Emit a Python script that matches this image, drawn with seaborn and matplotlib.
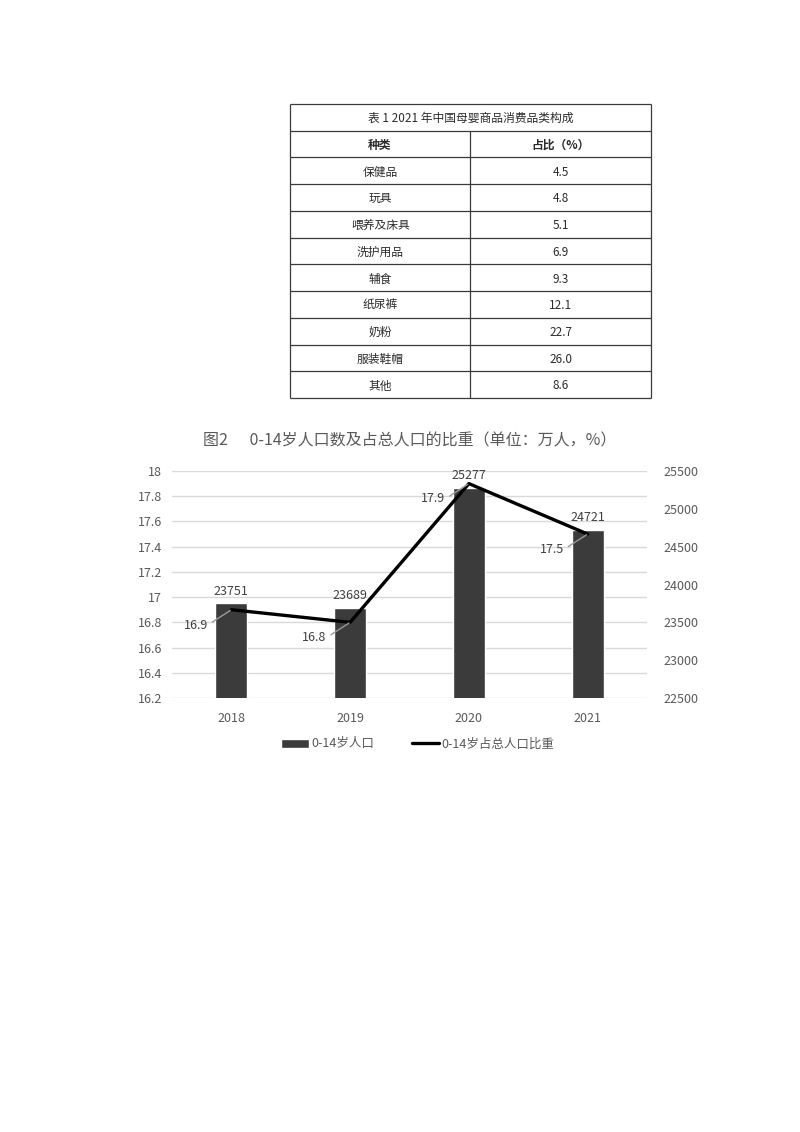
#!/usr/bin/env python3

import numpy as np
import pandas as pd
import matplotlib.pyplot as plt
import seaborn as sns

# Table 1: 2021 maternal & infant goods consumption mix
table_title = "表 1 2021 年中国母婴商品消费品类构成"
table_header = ["种类", "占比（%）"]
categories = ["保健品", "玩具", "喂养及床具", "洗护用品", "辅食", "纸尿裤", "奶粉", "服装鞋帽", "其他"]
shares = [4.5, 4.8, 5.1, 6.9, 9.3, 12.1, 22.7, 26.0, 8.6]

# Figure 2: 0-14 population and share of total
chart_title = "图2      0-14岁人口数及占总人口的比重（单位：万人，%）"
years = ["2018", "2019", "2020", "2021"]
pop_0_14 = [23751, 23689, 25277, 24721]
share_0_14 = [16.9, 16.8, 17.9, 17.5]
left_ticks = [16.2, 16.4, 16.6, 16.8, 17.0, 17.2, 17.4, 17.6, 17.8, 18.0]
left_tick_labels = ["16.2", "16.4", "16.6", "16.8", "17", "17.2", "17.4", "17.6", "17.8", "18"]
right_ticks = [22500, 23000, 23500, 24000, 24500, 25000, 25500]

sns.set_theme(style="white")
plt.rcParams['font.family'] = ['Noto Sans CJK SC', 'DejaVu Sans']

W, H = 800, 1132
fig = plt.figure(figsize=(8, 11.32), dpi=100)
fig.patch.set_facecolor("white")


def fig_box(x0, y0, x1, y1):
    """pixel box (top-left origin) -> figure fraction rect"""
    return [x0 / W, 1 - y1 / H, (x1 - x0) / W, (y1 - y0) / H]


# ---------------- table ----------------
ax_t = fig.add_axes(fig_box(290, 104, 651, 398))
n_rows = len(categories) + 2
ax_t.set_xlim(0, 1)
ax_t.set_ylim(n_rows, 0)
ax_t.axis("off")
line_kw = dict(color="#3a3a3a", lw=0.9, clip_on=False)
ax_t.hlines(range(n_rows + 1), 0, 1, **line_kw)
ax_t.vlines([0, 1], 0, n_rows, **line_kw)
split = (470 - 290) / (651 - 290)
ax_t.vlines(split, 1, n_rows, **line_kw)

txt_col = "#2b2b2b"
ax_t.text(0.5, 0.55, table_title, ha="center", va="center", fontsize=8.5, color=txt_col)
ax_t.text(split / 2, 1.55, table_header[0], ha="center", va="center",
          fontsize=8.5, fontweight="bold", color=txt_col)
ax_t.text((1 + split) / 2, 1.55, table_header[1], ha="center", va="center",
          fontsize=8.5, fontweight="bold", color=txt_col)
for i, (cat, val) in enumerate(zip(categories, shares)):
    y = i + 2.55
    ax_t.text(split / 2, y, cat, ha="center", va="center", fontsize=8.5, color=txt_col)
    ax_t.text((1 + split) / 2, y, f"{val:.1f}", ha="center", va="center",
              fontsize=8.5, color=txt_col)

# ---------------- chart ----------------
fig.text(410 / W, 1 - 441 / H, chart_title, ha="center", va="center",
         fontsize=11.5, color="#595959")

gray = "#595959"
ax1 = fig.add_axes(fig_box(172, 471, 647, 698))
ax2 = ax1.twinx()
ax3 = ax1.twinx()

df = pd.DataFrame({"year": years, "pop": pop_0_14, "share": share_0_14})

# base axis: left ticks + grid
ax1.set_ylim(16.2, 18.0)
ax1.set_yticks(left_ticks)
ax1.set_yticklabels(left_tick_labels)
ax1.grid(axis="y", color="#d9d9d9", lw=1)
ax1.grid(axis="x", visible=False)
ax1.tick_params(axis="y", length=0, pad=7, labelsize=9, labelcolor=gray)
ax1.tick_params(axis="x", length=0, pad=10, labelsize=9, labelcolor=gray)

# bars on right axis
sns.barplot(data=df, x="year", y="pop", order=years, color="#3b3b3b",
            saturation=1, width=0.27, ax=ax2, label="0-14岁人口")
ax2.set_ylim(22500, 25500)
ax2.set_yticks(right_ticks)
ax2.tick_params(axis="y", length=0, pad=12, labelsize=9, labelcolor=gray)
ax2.set_xlabel("")
ax2.set_ylabel("")
ax2.bar_label(ax2.containers[0], labels=[str(v) for v in pop_0_14],
              padding=4, fontsize=9, color="#404040")

# line on left scale
sns.lineplot(x=np.arange(len(years)), y=share_0_14, color="black", lw=2.4,
             ax=ax3, label="0-14岁占总人口比重")
ax3.set_ylim(16.2, 18.0)
ax3.set_yticks([])
ax3.set_ylabel("")
for i, v in enumerate(share_0_14):
    ax3.annotate(f"{v:.1f}", xy=(i, v), xytext=(-17, -11), textcoords="offset points",
                 ha="right", va="center", fontsize=9, color="#404040",
                 arrowprops=dict(arrowstyle="-", color="#9a9a9a", lw=1.0,
                                 shrinkA=1, shrinkB=1, relpos=(1, 0.5)))

ax1.set_xlim(-0.5, len(years) - 0.5)
ax1.set_xticks(range(len(years)))
ax1.set_xticklabels(years)
ax1.set_xlabel("")

for a in (ax1, ax2, ax3):
    for s in a.spines.values():
        s.set_visible(False)
    a.patch.set_visible(False)

# legend
h2, l2 = ax2.get_legend_handles_labels()
h3, l3 = ax3.get_legend_handles_labels()
for a in (ax2, ax3):
    if a.get_legend() is not None:
        a.get_legend().remove()
fig.legend(h2 + h3, l2 + l3, loc="center", bbox_to_anchor=(418 / W, 1 - 744 / H),
           ncol=2, frameon=False, fontsize=9, labelcolor=gray,
           handlelength=2.2, handleheight=0.7, columnspacing=3.0, handletextpad=0.2)

fig.savefig("out.png", dpi=100, facecolor="white")
